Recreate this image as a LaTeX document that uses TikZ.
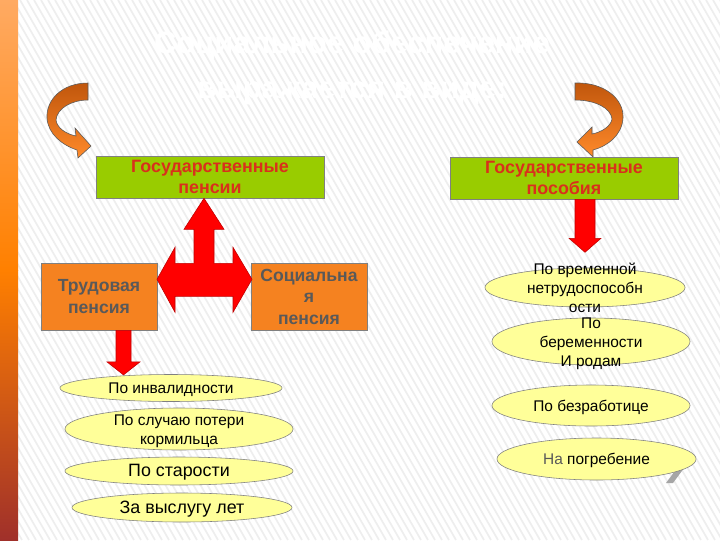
\documentclass[tikz,border=0pt]{standalone}
\usepackage{fontspec}
\setmainfont{Liberation Sans}
\usepackage{xcolor}
\usepackage{tikz}
\usetikzlibrary{positioning,shapes.geometric,calc}

\definecolor{gpfill}{HTML}{99CC00}
\definecolor{gptext}{HTML}{D9301C}
\definecolor{orfill}{HTML}{F58220}
\definecolor{ortext}{HTML}{595959}
\definecolor{ovfill}{HTML}{FFFF99}
\definecolor{arrtop}{HTML}{C0560C}
\definecolor{arrbot}{HTML}{FF8A2A}
\definecolor{hatchgray}{HTML}{EEEEEE}
\definecolor{striptop}{HTML}{FFAA62}
\definecolor{stripmid}{HTML}{FF8000}
\definecolor{stripbot}{HTML}{A0302A}

\newcommand{\inoval}[1]{\raisebox{-4.2pt}[0pt][0pt]{\begin{tabular}{@{}c@{}}#1\end{tabular}}}

\begin{document}
\begin{tikzpicture}[x=0.025cm, y=-0.025cm,
    gpbox/.style={draw=gray, fill=gpfill, minimum width=5.7cm, minimum height=1.05cm,
        inner sep=0pt, align=center, text=gptext, font=\fontsize{12.7}{14.8}\selectfont\bfseries},
    orbox/.style={draw=gray, fill=orfill, minimum width=2.9cm, minimum height=1.68cm,
        inner sep=0pt, align=center, text=ortext, font=\fontsize{12.5}{15.3}\selectfont\bfseries},
    oval/.style={ellipse, draw=gray, fill=ovfill, inner sep=0pt, font=\fontsize{11}{13.6}\selectfont},
    bigarrow/.style={fill=red, draw=red!75!black, line join=miter},
    curlarrow/.style={top color=arrtop, bottom color=arrbot, draw=gray!70!black}]

    \useasboundingbox (0,0) rectangle (720,540);

    % Hatched background
    \fill[white] (0,0) rectangle (720,540);
    \begin{scope}
        \clip (0,0) rectangle (720,540);
        \foreach \h in {-330,-323,...,720} {
            \draw[hatchgray, line width=1.2pt] (\h,0) -- ++(310,540);
        }
    \end{scope}

    % Orange strip on the left
    \fill[top color=striptop, bottom color=stripmid] (0,0) rectangle (18,270);
    \fill[top color=stripmid, bottom color=stripbot] (0,270) rectangle (18,540);

    % Title (white on white)
    \node[white, align=center, font=\fontsize{22}{32}\selectfont\bfseries] (title) at (352,68)
        {Социальное обеспечение\\выражается в виде:};

    % Curled arrows
    \draw[curlarrow] (88,83) .. controls (62,83) and (46,100) .. (47,118)
        .. controls (48,134) and (62,145) .. (77,150) -- (78,158) -- (91,146) -- (75,128)
        -- (76,136) .. controls (66,134) and (57,128) .. (56,120)
        .. controls (57,108) and (72,100) .. (88,100) -- cycle;
    \draw[curlarrow] (575,83) .. controls (603,82) and (624,98) .. (623,118)
        .. controls (622,135) and (608,146) .. (593,150) -- (593,157) -- (577,142) -- (592,127)
        -- (592,134) .. controls (602,132) and (611,126) .. (612,119)
        .. controls (611,108) and (595,100) .. (575,100) -- cycle;

    % Gray mark behind the last oval
    \fill[gray!70] (666,483) -- (673,483) -- (690,460) -- (683,460) -- cycle;

    % Main boxes
    \node[gpbox] (gp) at (210,177) {Государственные\\пенсии};
    \node[gpbox] (gpos) at (564,178) {Государственные\\пособия};
    \node[orbox] (trud) at (99,296.5) {Трудовая\\пенсия};
    \node[orbox] (soc) at (309,296.5) {Социальна\\я\\пенсия};

    % Pension kinds
    \node[oval, minimum width=5.55cm, minimum height=0.675cm] (inv) at (171,388)
        {\inoval{По инвалидности}};
    \node[oval, minimum width=5.7cm, minimum height=1.05cm] (korm) at (179,429)
        {\inoval{По случаю потери\\кормильца}};
    \node[oval, minimum width=5.7cm, minimum height=0.7cm, font=\fontsize{12.7}{15}\selectfont] (star) at (179,471)
        {\inoval{По старости}};
    \node[oval, minimum width=5.5cm, minimum height=0.725cm, font=\fontsize{12.7}{15}\selectfont] (vys) at (182,507.5)
        {\inoval{За выслугу лет}};

    % Benefit kinds
    \node[oval, minimum width=5.0cm, minimum height=0.975cm] (vrem) at (585,287.5)
        {\inoval{По временной\\нетрудоспособн\\ости}};
    \node[oval, minimum width=4.95cm, minimum height=1.175cm] (berem) at (591,341.5)
        {\inoval{По\\беременности\\И родам}};
    \node[oval, minimum width=4.95cm, minimum height=1.025cm] (bezr) at (591,405.5)
        {\inoval{По безработице}};
    \node[oval, minimum width=4.975cm, minimum height=1.05cm] (pogr) at (596.5,459)
        {\inoval{{\color{ortext}На} погребение}};

    % Red arrows
    \draw[bigarrow] ($(gp.south)+(-6,0)$) -- ++(20,31) -- ++(-10,0) -- ++(0,34) -- ++(19,0)
        -- ++(0,-16) -- ++(19,32) -- ++(-19,33) -- ++(0,-16) -- ++(-58,0) -- ++(0,16)
        -- ++(-18,-33) -- ++(18,-32) -- ++(0,16) -- ++(19,0) -- ++(0,-34) -- ++(-10,0) -- cycle;
    \draw[bigarrow] ($(trud.south)+(17,0)$) -- ++(0,31.5) -- ++(-9,0) -- ++(16.5,13)
        -- ++(16.5,-13) -- ++(-9,0) -- ++(0,-31.5) -- cycle;
    \draw[bigarrow] ($(gpos.south)+(11,0)$) -- ++(0,39) -- ++(-6,0) -- ++(16,14)
        -- ++(16,-14) -- ++(-6,0) -- ++(0,-39) -- cycle;
\end{tikzpicture}
\end{document}
